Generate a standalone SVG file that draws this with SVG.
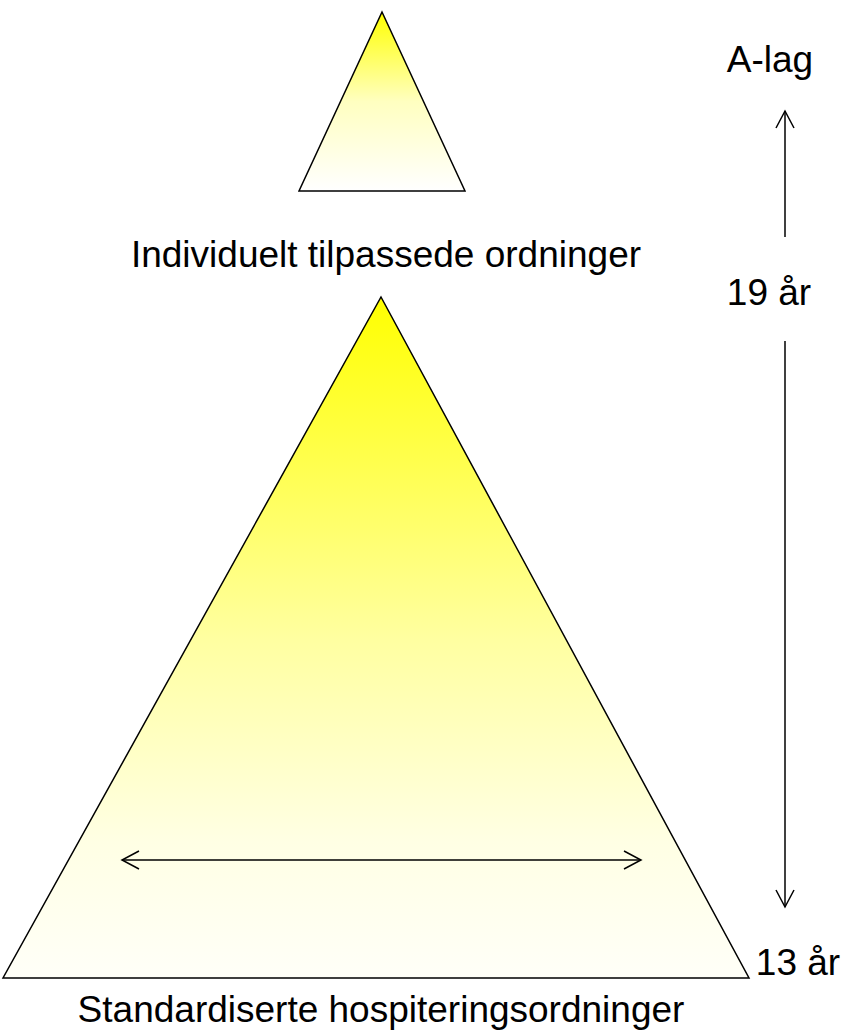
<svg xmlns="http://www.w3.org/2000/svg" width="844" height="1031" viewBox="0 0 844 1031">
<style>
.tri{stroke:#000;stroke-width:1.5;stroke-linejoin:miter}
.lbl{font-family:"Liberation Sans",Arial,sans-serif;font-size:37px;fill:#000}
.con{stroke:#000;stroke-width:1.5;fill:none}
</style>
<defs>
<linearGradient id="gs" x1="0" y1="0" x2="0" y2="1">
<stop offset="0" stop-color="#FFFF00"/>
<stop offset="0.5" stop-color="#FFFFC0"/>
<stop offset="1" stop-color="#FFFFFF"/>
</linearGradient>
<linearGradient id="gb" x1="0" y1="0" x2="0" y2="1">
<stop offset="0" stop-color="#FFFF00"/>
<stop offset="0.15" stop-color="#FFFF30"/>
<stop offset="0.5" stop-color="#FFFFA0"/>
<stop offset="0.8" stop-color="#FFFFE4"/>
<stop offset="1" stop-color="#FFFFF8"/>
</linearGradient>
<marker id="arr" viewBox="0 0 20 20" refX="18" refY="10" markerWidth="20" markerHeight="20" markerUnits="userSpaceOnUse" orient="auto-start-reverse">
<path d="M1,1 L18,10 L1,19" fill="none" stroke="#000" stroke-width="1.5"/>
</marker>
</defs>
<g id="small-triangle">
<polygon class="tri" points="382,12 465,191 299,191" fill="url(#gs)"/>
</g>
<g id="big-triangle">
<polygon class="tri" points="381,297 749,978 3,978" fill="url(#gb)"/>
</g>
<g id="labels">
<text class="lbl" x="386" y="267" text-anchor="middle">Individuelt tilpassede ordninger</text>
<text class="lbl" x="381" y="1022" text-anchor="middle">Standardiserte hospiteringsordninger</text>
<text class="lbl" x="770" y="72" text-anchor="middle">A-lag</text>
<text class="lbl" x="769" y="305" text-anchor="middle">19 år</text>
<text class="lbl" x="798" y="975" text-anchor="middle">13 år</text>
</g>
<g id="connectors">
<line class="con" x1="785" y1="237" x2="785" y2="111" marker-end="url(#arr)"/>
<line class="con" x1="785" y1="341" x2="785" y2="907" marker-end="url(#arr)"/>
<line class="con" x1="122" y1="860" x2="641" y2="860" marker-start="url(#arr)" marker-end="url(#arr)"/>
</g>
</svg>
